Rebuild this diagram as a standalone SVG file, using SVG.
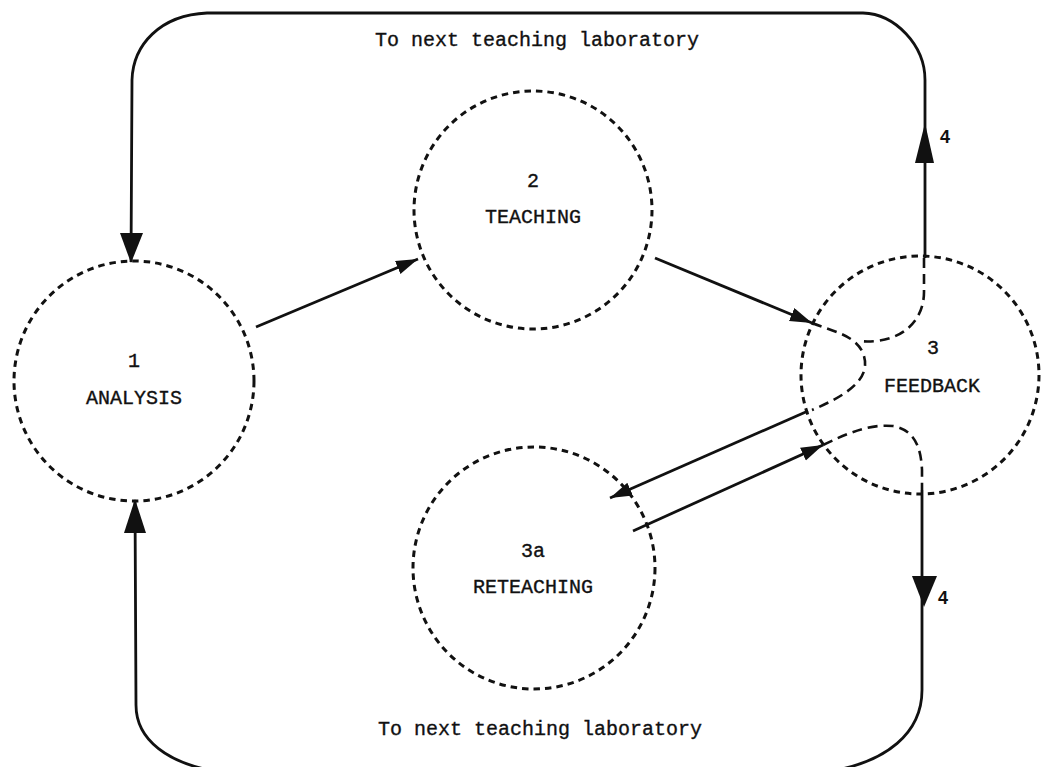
<svg xmlns="http://www.w3.org/2000/svg" width="1042" height="767" viewBox="0 0 1042 767">
  <defs>
    <marker id="head" markerUnits="userSpaceOnUse" markerWidth="24" markerHeight="16" refX="22" refY="7" orient="auto">
      <path d="M0,0 L22,7 L0,14 Z" fill="#111"/>
    </marker>
    <style>
      .node { fill: none; stroke: #111; stroke-width: 3; stroke-dasharray: 6.5 5; }
      .loop { fill: none; stroke: #111; stroke-width: 2.6; stroke-dasharray: 10 6; }
      .line { fill: none; stroke: #111; stroke-width: 2.8; stroke-linejoin: round; }
      .arrow { fill: none; stroke: #111; stroke-width: 2.8; marker-end: url(#head); }
      .tip { fill: #111; }
      .lbl { font-family: "Liberation Mono", "Courier New", monospace; font-size: 20px; fill: #111; text-anchor: middle; stroke: #111; stroke-width: 0.35; }
      .num { font-family: "Liberation Sans", Arial, sans-serif; font-size: 18px; font-weight: bold; fill: #111; }
    </style>
  </defs>

  <rect width="1042" height="767" fill="#fff"/>

  <!-- connectors -->
  <g id="connectors">
    <!-- outer return loop over the top: feedback -> analysis -->
    <path class="line" d="M925,258 L925,80 C925,45 895,14 863,13 L207,13 C160,15 133,45 132,80 L131,262"/>
    <polygon class="tip" points="925,123 934,163 915,163"/>
    <polygon class="tip" points="131,263 120,233 143,233"/>

    <!-- outer return loop along the bottom: feedback -> analysis -->
    <path class="line" d="M922,490 L922,690 C922,732 888,763 825,772 L220,772 C168,764 136,740 136,705 L135,500"/>
    <polygon class="tip" points="924,607 912,576 937,576"/>
    <polygon class="tip" points="135,499 124,533 146,533"/>

    <!-- straight arrows between stages -->
    <path class="arrow" d="M256,327 L418,259"/>
    <path class="arrow" d="M655,258 L812,323"/>
    <path class="arrow" d="M808,411 L610,498"/>
    <path class="arrow" d="M633,531 L823,445"/>

    <!-- routing paths inside the feedback stage -->
    <path class="loop" d="M812,323 C835,332 858,336 864,356 C871,380 845,396 812,410"/>
    <path class="loop" d="M924,258 L924,292 C924,322 900,345 858,341"/>
    <path class="loop" d="M823,445 C850,432 870,424 893,426 C915,430 921,448 922,470 L922,490"/>
  </g>

  <!-- stage 1 -->
  <g id="analysis">
    <circle class="node" cx="134" cy="381" r="120"/>
    <text class="lbl" x="134" y="367">1</text>
    <text class="lbl" x="134" y="404">ANALYSIS</text>
  </g>

  <!-- stage 2 -->
  <g id="teaching">
    <circle class="node" cx="533" cy="210" r="119"/>
    <text class="lbl" x="533" y="187">2</text>
    <text class="lbl" x="533" y="223">TEACHING</text>
  </g>

  <!-- stage 3 -->
  <g id="feedback">
    <circle class="node" cx="920" cy="375" r="119"/>
    <text class="lbl" x="933" y="354">3</text>
    <text class="lbl" x="932" y="392">FEEDBACK</text>
  </g>

  <!-- stage 3a -->
  <g id="reteaching">
    <circle class="node" cx="534" cy="568" r="121"/>
    <text class="lbl" x="533" y="557">3a</text>
    <text class="lbl" x="533" y="593">RETEACHING</text>
  </g>

  <!-- loop labels -->
  <g id="labels">
    <text class="lbl" x="537" y="46">To next teaching laboratory</text>
    <text class="lbl" x="540" y="735">To next teaching laboratory</text>
    <text class="num" x="940" y="143">4</text>
    <text class="num" x="938" y="604">4</text>
  </g>
</svg>
